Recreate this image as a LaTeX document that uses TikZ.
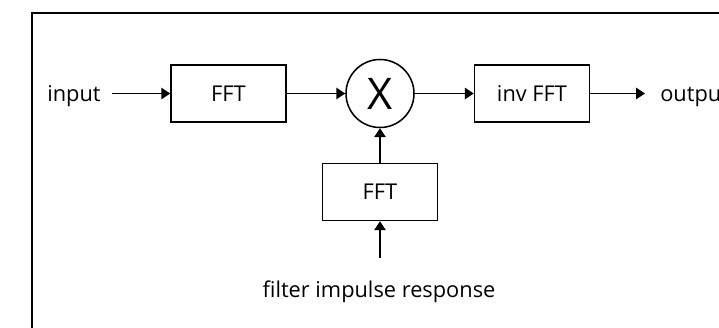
\documentclass[tikz,border=0pt]{standalone}
\usepackage{fontspec}
\setmainfont{Open Sans}
\usetikzlibrary{arrows.meta,positioning}
\tikzset{
  lbl/.style={font=\fontsize{15.5pt}{18pt}\selectfont, inner sep=0pt},
  blk/.style={lbl, draw, line width=1.1pt, minimum width=28.75mm, minimum height=14.25mm},
  mul/.style={circle, draw, line width=1.1pt, minimum size=17mm, inner sep=0pt, font=\fontsize{31pt}{36pt}\selectfont},
  arr/.style={-{Triangle[length=2.2mm,width=2.8mm]}, line width=1.1pt},
  frm/.style={line width=1.2pt},
}
\begin{document}
\begin{tikzpicture}[x=0.25mm,y=0.25mm]
  \useasboundingbox (0,0) rectangle (719,327);
  % outer frame (cut at right and bottom)
  \draw[frm] (32,-20) -- (32,314) -- (760,314);
  \node[blk] (fft) at (228.5,233.5) {FFT};
  \node[mul] (prod) at (380,233.5) {X};
  \node[blk] (ifft) at (532,233.5) {inv FFT};
  \node[blk] (fftb) at (380,135) {FFT};
  \node[lbl, anchor=base] (in) at (74,226) {input};
  \node[lbl, anchor=base west] (out) at (660,226) {output};
  \node[lbl, anchor=base] (imp) at (379,30) {filter impulse response};
  \coordinate (ina) at (112,233.5);
  \coordinate (outa) at (645,233.5);
  \coordinate (impa) at (380,69);
  \draw[arr] (ina) -- (fft);
  \draw[arr] (fft) -- (prod);
  \draw[arr] (prod) -- (ifft);
  \draw[arr] (ifft) -- (outa);
  \draw[arr] (fftb) -- (prod);
  \draw[arr] (impa) -- (fftb);
\end{tikzpicture}
\end{document}
